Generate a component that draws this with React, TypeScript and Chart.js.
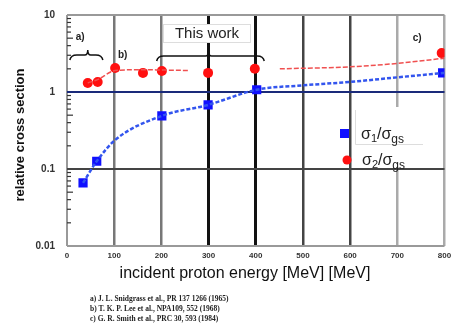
import React, { useEffect, useRef } from "react";
import { Chart, registerables } from "chart.js";

Chart.register(...registerables);

// measured points
const energyBlue = [34, 63, 201, 299, 402, 796];
const ratioBlue = [0.066, 0.126, 0.49, 0.68, 1.07, 1.77];
const energyRed = [44, 65, 102, 161, 201, 299, 398, 794];
const ratioRed = [1.31, 1.35, 2.05, 1.77, 1.87, 1.77, 2.0, 3.2];

// fitted curves
const fitEnergyBlue = [34, 63, 102, 201, 299, 402, 500, 599, 700, 800];
const fitRatioBlue = [0.066, 0.126, 0.238, 0.49, 0.68, 1.07, 1.22, 1.35, 1.55, 1.77];
const fitEnergyRed = [44, 65, 102, 161, 201, 260, 350, 451, 599, 700, 800];
const fitRatioRed = [1.31, 1.45, 1.9, 1.95, 1.93, 1.9, null, 2.0, 2.12, 2.35, 2.75];

const xTicks = [0, 100, 200, 300, 400, 500, 600, 700, 800];
const yTicks = [10, 1, 0.1, 0.01];
const yTickLabels = ["10", "1", "0.1", "0.01"];

const xTitle = "incident proton energy [MeV] [MeV]";
const yTitle = "relative cross section";
const refs = [
  "a) J. L. Snidgrass et al., PR 137 1266 (1965)",
  "b) T. K. P. Lee et al., NPA109, 552 (1968)",
  "c) G. R. Smith et al., PRC 30, 593 (1984)",
];

const vGridColors = ["#999", "#777", "#777", "#111", "#111", "#444", "#444", "#aaa", "#aaa"];
const vGridWidths = [2, 2.5, 2.5, 3, 3, 2.5, 2.5, 2.5, 2.5];

const isDecade = (v: number) => Math.abs(Math.log10(v) - Math.round(Math.log10(v))) < 1e-6;

function brace(ctx: CanvasRenderingContext2D, x1: number, x2: number, y: number, mid: number) {
  ctx.beginPath();
  ctx.moveTo(x1, y + 5);
  ctx.quadraticCurveTo(x1 + 1, y, x1 + 7, y);
  ctx.lineTo(mid - 3, y);
  ctx.quadraticCurveTo(mid, y, mid, y - 5);
  ctx.quadraticCurveTo(mid, y, mid + 3, y);
  ctx.lineTo(x2 - 7, y);
  ctx.quadraticCurveTo(x2 - 1, y, x2, y + 5);
  ctx.stroke();
}

function sigmaLabel(ctx: CanvasRenderingContext2D, x: number, y: number, sub: string) {
  ctx.fillStyle = "#222";
  ctx.textAlign = "left";
  ctx.textBaseline = "alphabetic";
  ctx.font = "16px 'Liberation Sans', Arial";
  ctx.fillText("σ", x, y);
  let cx = x + ctx.measureText("σ").width;
  ctx.font = "11px 'Liberation Sans', Arial";
  ctx.fillText(sub, cx, y + 3);
  cx += ctx.measureText(sub).width;
  ctx.font = "16px 'Liberation Sans', Arial";
  ctx.fillText("/σ", cx, y);
  cx += ctx.measureText("/σ").width;
  ctx.font = "12px 'Liberation Sans', Arial";
  ctx.fillText("gs", cx, y + 4);
}

const decor = {
  id: "decor",
  beforeDatasetsDraw(chart: any) {
    const ctx = chart.ctx as CanvasRenderingContext2D;
    const ys = chart.scales.y;
    const area = chart.chartArea;
    ctx.save();
    // minor ticks inside left axis
    ctx.strokeStyle = "#333";
    ctx.lineWidth = 1.2;
    for (let d = -2; d < 1; d++) {
      for (let m = 2; m <= 9; m++) {
        const v = m * Math.pow(10, d);
        const py = ys.getPixelForValue(v);
        ctx.beginPath();
        ctx.moveTo(area.left, py);
        ctx.lineTo(area.left + (m === 5 ? 6 : 4), py);
        ctx.stroke();
      }
    }
    // legend background
    ctx.fillStyle = "#fff";
    ctx.fillRect(355, 107, 70, 60);
    ctx.strokeStyle = "#ddd";
    ctx.lineWidth = 1;
    ctx.beginPath();
    ctx.moveTo(355.5, 110);
    ctx.lineTo(355.5, 144.5);
    ctx.lineTo(423, 144.5);
    ctx.stroke();
    ctx.restore();
  },
  afterDraw(chart: any) {
    const ctx = chart.ctx as CanvasRenderingContext2D;
    const xs = chart.scales.x;
    const ys = chart.scales.y;
    const area = chart.chartArea;
    ctx.save();
    // x tick labels
    ctx.fillStyle = "#333";
    ctx.font = "bold 8px 'Liberation Sans', Arial";
    ctx.textAlign = "center";
    ctx.textBaseline = "middle";
    xTicks.forEach((v) => ctx.fillText(String(v), xs.getPixelForValue(v), area.bottom + 10));
    // y tick labels
    ctx.font = "bold 10px 'Liberation Sans', Arial";
    ctx.textAlign = "right";
    yTicks.forEach((v, i) => ctx.fillText(yTickLabels[i], 55, ys.getPixelForValue(v)));
    // axis titles
    ctx.fillStyle = "#111";
    ctx.font = "16px 'Liberation Sans', Arial";
    ctx.textAlign = "center";
    ctx.fillText(xTitle, 245, 274);
    ctx.save();
    ctx.translate(20, 135);
    ctx.rotate(-Math.PI / 2);
    ctx.font = "bold 13px 'Liberation Sans', Arial";
    ctx.fillText(yTitle, 0, 0);
    ctx.restore();
    // references
    ctx.font = "bold 7.5px 'Liberation Serif', serif";
    ctx.textAlign = "left";
    ctx.fillStyle = "#222";
    refs.forEach((r, i) => ctx.fillText(r, 90, 299 + i * 10));
    // annotations
    ctx.font = "bold 10px 'Liberation Sans', Arial";
    ctx.fillStyle = "#222";
    ctx.textAlign = "center";
    ctx.fillText("a)", xs.getPixelForValue(28), 37);
    ctx.fillText("b)", xs.getPixelForValue(118), 55);
    ctx.fillText("c)", xs.getPixelForValue(742), 38);
    ctx.strokeStyle = "#111";
    ctx.lineWidth = 1.5;
    brace(ctx, xs.getPixelForValue(6), xs.getPixelForValue(76), 55, xs.getPixelForValue(44));
    brace(ctx, xs.getPixelForValue(190), xs.getPixelForValue(418), 56, xs.getPixelForValue(300));
    // This work box
    ctx.fillStyle = "#fff";
    ctx.fillRect(163, 24, 88, 19);
    ctx.strokeStyle = "#ddd";
    ctx.lineWidth = 1;
    ctx.strokeRect(163.5, 24.5, 87, 18);
    ctx.fillStyle = "#222";
    ctx.font = "15px 'Liberation Sans', Arial";
    ctx.textAlign = "center";
    ctx.fillText("This work", 207, 34);
    // legend
    ctx.fillStyle = "#1010ff";
    ctx.fillRect(340, 129, 9, 9);
    sigmaLabel(ctx, 361, 139, "1");
    ctx.fillStyle = "#ff1010";
    ctx.beginPath();
    ctx.arc(347, 160, 4.5, 0, Math.PI * 2);
    ctx.fill();
    sigmaLabel(ctx, 362, 165, "2");
    ctx.restore();
  },
};

export default function App() {
  const ref = useRef<HTMLCanvasElement>(null);
  useEffect(() => {
    document.body.style.margin = "0";
    const chart = new Chart(ref.current!, {
      type: "scatter",
      data: {
        datasets: [
          {
            type: "line",
            data: fitEnergyBlue.map((x, i) => ({ x, y: fitRatioBlue[i] })),
            borderColor: "#3355ee",
            borderWidth: 2.5,
            borderDash: [4, 2],
            pointRadius: 0,
            cubicInterpolationMode: "monotone",
          } as any,
          {
            type: "line",
            data: fitEnergyRed.map((x, i) => ({ x, y: fitRatioRed[i] })),
            borderColor: "#f05050",
            borderWidth: 1.5,
            borderDash: [5, 2],
            pointRadius: 0,
            spanGaps: false,
            cubicInterpolationMode: "monotone",
          } as any,
          {
            data: energyBlue.map((x, i) => ({ x, y: ratioBlue[i] })),
            pointStyle: "rect",
            pointRadius: 6.5,
            backgroundColor: "#1010ff",
            borderColor: "#1010ff",
            borderWidth: 0,
          },
          {
            data: energyRed.map((x, i) => ({ x, y: ratioRed[i] })),
            pointStyle: "circle",
            pointRadius: 5,
            backgroundColor: "#ff1010",
            borderColor: "#ff1010",
            borderWidth: 0,
          },
        ],
      },
      options: {
        animation: false,
        responsive: false,
        layout: { padding: { top: 15, right: 6, left: 0, bottom: 0 } },
        plugins: { legend: { display: false }, tooltip: { enabled: false } },
        scales: {
          x: {
            type: "linear",
            min: 0,
            max: 800,
            afterBuildTicks: (s: any) => {
              s.ticks = xTicks.map((v) => ({ value: v }));
            },
            afterFit: (s: any) => {
              s.height = 87;
            },
            ticks: { display: false },
            border: { display: false },
            grid: {
              drawTicks: false,
              color: (c: any) => vGridColors[xTicks.indexOf(c.tick.value)] ?? "transparent",
              lineWidth: (c: any) => vGridWidths[xTicks.indexOf(c.tick.value)] ?? 0,
            },
          },
          y: {
            type: "logarithmic",
            min: 0.01,
            max: 10,
            afterBuildTicks: (s: any) => {
              s.ticks = yTicks.map((v) => ({ value: v }));
            },
            afterFit: (s: any) => {
              s.width = 67;
            },
            ticks: { display: false },
            border: { display: false },
            grid: {
              drawTicks: false,
              color: (c: any) => {
                const v = c.tick.value;
                if (Math.abs(v - 1) < 1e-9) return "#1a2a7a";
                if (Math.abs(v - 0.1) < 1e-9) return "#444";
                return "#999";
              },
              lineWidth: (c: any) => (isDecade(c.tick.value) ? 2 : 0),
            },
          },
        },
      } as any,
      plugins: [decor],
    });
    return () => chart.destroy();
  }, []);
  return (
    <div style={{ width: 451, height: 333, background: "#fff" }}>
      <canvas ref={ref} width={451} height={333} style={{ display: "block" }} />
    </div>
  );
}
